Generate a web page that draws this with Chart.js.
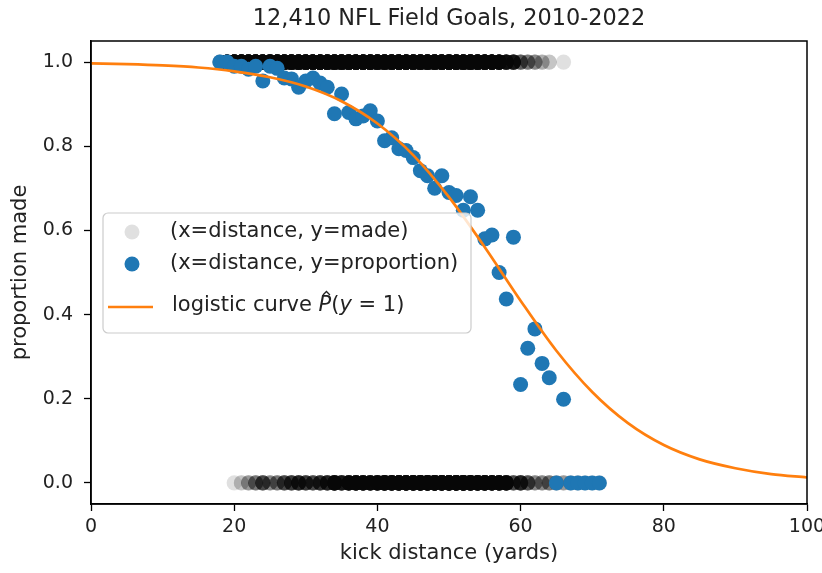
<!DOCTYPE html>
<html>
<head>
<meta charset="utf-8">
<title>NFL Field Goals</title>
<script src="https://cdn.jsdelivr.net/npm/chart.js@4/dist/chart.umd.min.js"></script>
<style>
  html, body { margin: 0; padding: 0; background: #fff; }
  canvas { display: block; }
</style>
</head>
<body>
<canvas id="fgChart" width="822" height="573"></canvas>
<script>
// kick distances (yards) that appear in the data
const distances = [18, 19, 20, 21, 22, 23, 24, 25, 26, 27, 28, 29, 30, 31, 32, 33, 34, 35,
  36, 37, 38, 39, 40, 41, 42, 43, 44, 45, 46, 47, 48, 49, 50, 51, 52, 53, 54, 55, 56, 57,
  58, 59, 60, 61, 62, 63, 64, 65, 66, 67, 68, 69, 70, 71];

// estimated number of made / missed kicks at each distance
const madeCounts = [3, 45, 160, 230, 240, 250, 240, 250, 250, 250, 250, 240, 240, 250, 250, 250, 240, 240,
  230, 240, 230, 230, 220, 210, 210, 200, 200, 190, 180, 170, 170, 160, 150, 140, 130, 120, 100, 75, 60, 40,
  25, 20, 8, 6, 5, 3, 2, 0, 1, 0, 0, 0, 0, 0];
const missCounts = [0, 0, 1, 2, 4, 6, 10, 5, 6, 10, 12, 15, 12, 10, 13, 16, 34, 20,
  31, 37, 34, 30, 36, 48, 46, 52, 53, 56, 63, 63, 73, 59, 67, 65, 71, 56, 54, 54, 42, 40,
  32, 10, 16, 9, 5, 5, 6, 3, 4, 2, 2, 1, 1, 1];

// proportion made at each distance
const proportions = [1.0, 1.0, 0.99, 0.99, 0.983, 0.99, 0.955, 0.99, 0.985, 0.962, 0.96, 0.94, 0.955, 0.962, 0.95, 0.94, 0.877, 0.924,
  0.88, 0.865, 0.872, 0.884, 0.86, 0.813, 0.82, 0.794, 0.79, 0.773, 0.742, 0.73, 0.70, 0.73, 0.69, 0.683, 0.648, 0.68, 0.648, 0.58, 0.589, 0.50,
  0.437, 0.584, 0.234, 0.32, 0.366, 0.284, 0.25, 0, 0.199, 0, 0, 0, 0, 0];

// fitted logistic curve
const curveX = [0, 5, 10, 15, 20, 25, 30, 35, 40, 45, 50, 55, 60, 65, 70, 75, 80, 85, 90, 95, 100];
const curveY = [0.997, 0.995, 0.992, 0.987, 0.978, 0.964, 0.942, 0.907, 0.854, 0.779, 0.679, 0.560, 0.433,
  0.314, 0.216, 0.142, 0.090, 0.056, 0.035, 0.021, 0.013];

const xTicks = [0, 20, 40, 60, 80, 100];
const yTicks = [0.0, 0.2, 0.4, 0.6, 0.8, 1.0];

const FONT = 'DejaVu Sans';
const TEXT = '#222';
const BLUE = '#1f77b4';
const ORANGE = '#ff7f0e';
const KICK = 'rgba(0,0,0,0.12)';

// one point per kick, like the original scatter
const kicks = [];
distances.forEach((d, i) => {
  for (let k = 0; k < madeCounts[i]; k++) kicks.push({x: d, y: 1});
  for (let k = 0; k < missCounts[i]; k++) kicks.push({x: d, y: 0});
});
const propPoints = distances.map((d, i) => ({x: d, y: proportions[i]}));
const curvePoints = curveX.map((x, i) => ({x: x, y: curveY[i]}));

const extras = {
  id: 'extras',
  afterDatasetsDraw(chart) {
    const {ctx, chartArea: a} = chart;
    ctx.save();
    // full frame around the axes
    ctx.strokeStyle = '#000';
    ctx.lineWidth = 1.5;
    ctx.strokeRect(a.left, a.top, a.right - a.left, a.bottom - a.top);

    // legend box
    const bx = a.left + 12, by = a.top + 172, bw = 368, bh = 120;
    ctx.beginPath();
    ctx.roundRect(bx, by, bw, bh, 5);
    ctx.fillStyle = 'rgba(255,255,255,0.8)';
    ctx.fill();
    ctx.strokeStyle = '#cccccc';
    ctx.lineWidth = 1.2;
    ctx.stroke();

    ctx.font = '21px "' + FONT + '"';
    ctx.textBaseline = 'middle';
    ctx.textAlign = 'left';

    ctx.fillStyle = KICK;
    ctx.beginPath(); ctx.arc(bx + 29, by + 19, 7.5, 0, Math.PI * 2); ctx.fill();
    ctx.fillStyle = TEXT;
    ctx.fillText(chart.data.datasets[2].label, bx + 67, by + 19);

    ctx.fillStyle = BLUE;
    ctx.beginPath(); ctx.arc(bx + 29, by + 51, 7.5, 0, Math.PI * 2); ctx.fill();
    ctx.fillStyle = TEXT;
    ctx.fillText(chart.data.datasets[1].label, bx + 67, by + 51);

    ctx.strokeStyle = ORANGE;
    ctx.lineWidth = 2.7;
    ctx.beginPath(); ctx.moveTo(bx + 5, by + 94); ctx.lineTo(bx + 50, by + 94); ctx.stroke();

    // "logistic curve P̂(y = 1)" with math-style italics
    let tx = bx + 69;
    const ty = by + 93;
    const put = (s, italic) => {
      ctx.font = (italic ? 'italic ' : '') + '21px "' + FONT + '"';
      ctx.fillText(s, tx, ty);
      const w = ctx.measureText(s).width;
      tx += w;
      return w;
    };
    ctx.fillStyle = TEXT;
    put('logistic curve ', false);
    const px = tx;
    const pw = put('P', true);
    // hat accent over the P
    const hx = px + pw * 0.62;
    ctx.strokeStyle = TEXT;
    ctx.lineWidth = 1.3;
    ctx.beginPath();
    ctx.moveTo(hx - 3.5, ty - 11);
    ctx.lineTo(hx, ty - 14.5);
    ctx.lineTo(hx + 3.5, ty - 11);
    ctx.stroke();
    put('(', false);
    put('y', true);
    put(' = 1)', false);

    ctx.restore();
  },
  afterDraw(chart) {
    const {ctx, chartArea: a} = chart;
    ctx.save();
    ctx.font = '22.4px "' + FONT + '"';
    ctx.fillStyle = TEXT;
    ctx.textAlign = 'center';
    ctx.textBaseline = 'middle';
    ctx.fillText('12,410 NFL Field Goals, 2010-2022', (a.left + a.right) / 2, 19);
    ctx.restore();
  }
};

new Chart(document.getElementById('fgChart'), {
  type: 'scatter',
  data: {
    datasets: [
      {
        type: 'line',
        label: 'logistic curve P(y=1)',
        data: curvePoints,
        borderColor: ORANGE,
        borderWidth: 2.7,
        pointRadius: 0,
        fill: false,
        cubicInterpolationMode: 'monotone',
        order: 0
      },
      {
        label: '(x=distance, y=proportion)',
        data: propPoints,
        backgroundColor: BLUE,
        pointRadius: 7.5,
        pointHoverRadius: 7.5,
        pointBorderWidth: 0,
        order: 1
      },
      {
        label: '(x=distance, y=made)',
        data: kicks,
        backgroundColor: KICK,
        pointRadius: 7.6,
        pointHoverRadius: 7.6,
        pointBorderWidth: 0,
        order: 2
      }
    ]
  },
  options: {
    responsive: false,
    animation: false,
    events: [],
    layout: { padding: { top: 41, right: 15, bottom: 0, left: 0 } },
    plugins: {
      legend: { display: false },
      tooltip: { enabled: false },
      title: { display: false }
    },
    scales: {
      x: {
        type: 'linear',
        min: 0,
        max: 100,
        afterBuildTicks: s => { s.ticks = xTicks.map(v => ({value: v})); },
        afterFit: s => { s.height = 69; s.paddingLeft = 0; s.paddingRight = 0; },
        grid: { drawOnChartArea: false, drawTicks: true, tickLength: 7, color: '#000', tickWidth: 1.3 },
        border: { display: true, color: '#000', width: 1.5 },
        ticks: { padding: 5, color: TEXT, font: { family: FONT, size: 19 }, maxRotation: 0, autoSkip: false },
        title: { display: true, text: 'kick distance (yards)', color: TEXT, font: { family: FONT, size: 21 }, padding: { top: 2, bottom: 7 } }
      },
      y: {
        type: 'linear',
        min: -0.05,
        max: 1.05,
        afterBuildTicks: s => { s.ticks = yTicks.map(v => ({value: v})); },
        afterFit: s => { s.width = 91; s.paddingTop = 0; s.paddingBottom = 0; },
        grid: { drawOnChartArea: false, drawTicks: true, tickLength: 7, color: '#000', tickWidth: 1.3 },
        border: { display: true, color: '#000', width: 1.5 },
        ticks: { padding: 11, color: TEXT, font: { family: FONT, size: 19 }, callback: v => v.toFixed(1) },
        title: { display: true, text: 'proportion made', color: TEXT, font: { family: FONT, size: 21 }, padding: { top: 8, bottom: 2 } }
      }
    }
  },
  plugins: [extras]
});
</script>
</body>
</html>
